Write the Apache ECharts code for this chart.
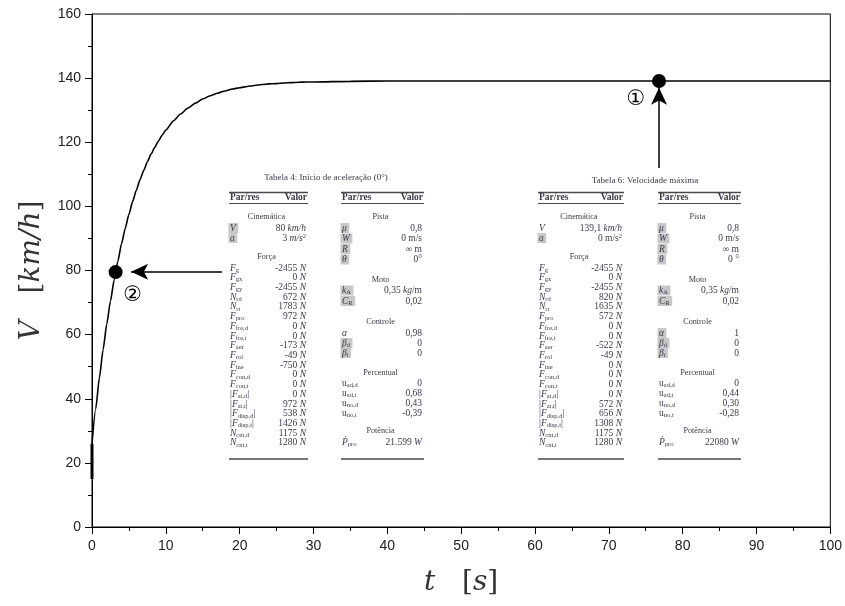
<!DOCTYPE html>
<html>
<head>
<meta charset="utf-8">
<script src="https://cdn.jsdelivr.net/npm/echarts@6/dist/echarts.min.js"></script>
<style>html,body{margin:0;padding:0;background:#fff}#c{width:845px;height:606px}</style>
</head>
<body>
<div id="c"></div>
<script>
// ---- curve data ----
const tValues = [0, 0.5, 1, 1.5, 2, 2.5, 3, 3.5, 4, 4.5, 5, 5.5, 6, 6.5, 7, 7.5, 8, 8.5, 9, 9.5, 10, 11, 12, 13, 14, 15, 16, 17, 18, 19, 20, 21, 22, 23, 24, 25, 26, 27, 28, 29, 30, 35, 40, 50, 60, 70, 80, 90, 100];
const vValues = [26.0, 36.8, 46.5, 55.3, 63.3, 70.5, 77.0, 82.9, 88.3, 93.1, 97.5, 101.5, 105.0, 108.3, 111.2, 113.9, 116.3, 118.4, 120.4, 122.2, 123.8, 126.6, 128.8, 130.7, 132.2, 133.5, 134.5, 135.3, 136.0, 136.6, 137.0, 137.4, 137.7, 138.0, 138.2, 138.3, 138.5, 138.6, 138.7, 138.8, 138.8, 139.0, 139.1, 139.1, 139.1, 139.1, 139.1, 139.1, 139.1];
const startT = [0, 0];
const startV = [15, 26];
// ---- marked points ----
const markerT = [76.8, 3.2];
const markerV = [139.1, 79.5];
const markerLabels = ['①', '②'];
// arrows: [fromT, fromV, toT, toV]
const arrow1 = [76.8, 112, 76.8, 137];
const arrow2 = [17.6, 79.6, 5.3, 79.6];
// ---- axis ticks ----
const xTicks = [0, 10, 20, 30, 40, 50, 60, 70, 80, 90, 100];
const yTicks = [0, 20, 40, 60, 80, 100, 120, 140, 160];

// ---- tables ----
const colHeaders = ['Par/res', 'Valor'];
const t4Caption = 'Tabela 4: Início de aceleração (0°)';
const t6Caption = 'Tabela 6: Velocidade máxima';
const secCin = 'Cinemática', secForca = 'Força', secPista = 'Pista', secMoto = 'Moto', secCtrl = 'Controle', secPerc = 'Percentual', secPot = 'Potência';
const cinSymbols = ['*V*', '*a*'];
const t4Cin = ['80 *km/h*', '3 *m/s*^{2}'];
const t6Cin = ['139,1 *km/h*', '0 m/s^{2}'];
const forceSymbols = ['*F*_{g}', '*F*_{gx}', '*F*_{gy}', '*N*_{rd}', '*N*_{rt}', '*F*_{pro}', '*F*_{fre,d}', '*F*_{fre,t}', '*F*_{aer}', '*F*_{rol}', '*F*_{ine}', '*F*_{con,d}', '*F*_{con,t}', '|*F*_{at,d}|', '|*F*_{at,t}|', '|*F*_{disp,d}|', '|*F*_{disp,t}|', '*N*_{cnt,d}', '*N*_{cnt,t}'];
const t4Force = ['-2455', '0', '-2455', '672', '1783', '972', '0', '0', '-173', '-49', '-750', '0', '0', '0', '972', '538', '1426', '1175', '1280'];
const t6Force = ['-2455', '0', '-2455', '820', '1635', '572', '0', '0', '-522', '-49', '0', '0', '0', '0', '572', '656', '1308', '1175', '1280'];
const pistaSymbols = ['*μ*', '*W*', '*R*', '*θ*'];
const t4Pista = ['0,8', '0 m/s', '∞ m', '0°'];
const t6Pista = ['0,8', '0 m/s', '∞ m', '0 °'];
const motoSymbols = ['*k*_{A}', '*C*_{R}'];
const t4Moto = ['0,35 *kg*/m', '0,02'];
const t6Moto = ['0,35 *kg*/m', '0,02'];
const ctrlSymbols = ['*α*', '*β*_{d}', '*β*_{t}'];
const t4Ctrl = ['0,98', '0', '0'];
const t6Ctrl = ['1', '0', '0'];
const percSymbols = ['u_{ad,d}', 'u_{ad,t}', 'u_{no,d}', 'u_{no,t}'];
const t4Perc = ['0', '0,68', '0,43', '-0,39'];
const t6Perc = ['0', '0,44', '0,30', '-0,28'];
const potSymbols = ['*Ṗ*_{pro}'];
const t4Pot = ['21.599 *W*'];
const t6Pot = ['22080 *W*'];
// highlighted (gray box) symbols
const t4Highlight = { cin: [0, 1], pista: [0, 1, 2, 3], moto: [0, 1], ctrl: [1, 2] };
const t6Highlight = { cin: [1], pista: [0, 1, 2, 3], moto: [0, 1], ctrl: [0, 1, 2] };

// ---- helpers ----
const SERIF = '"Liberation Serif", "DejaVu Serif", serif';
const TXT = '#3a3a46';
const FS = 9.5, SFS = 6.5;
function tokens(str) {
  const out = [];
  let i = 0, buf = '';
  const flush = () => { if (buf) { out.push({ k: 'n', t: buf }); buf = ''; } };
  while (i < str.length) {
    const c = str[i];
    if (c === '*') {
      flush();
      const j = str.indexOf('*', i + 1);
      out.push({ k: 'i', t: str.slice(i + 1, j) });
      i = j + 1;
    } else if ((c === '_' || c === '^') && str[i + 1] === '{') {
      flush();
      const j = str.indexOf('}', i + 2);
      out.push({ k: c === '_' ? 's' : 'p', t: str.slice(i + 2, j) });
      i = j + 1;
    } else { buf += c; i++; }
  }
  flush();
  return out;
}
function toRich(str) { return tokens(str).map(o => '{' + o.k + '|' + o.t + '}').join(''); }
const mctx = document.createElement('canvas').getContext('2d');
function measure(str) {
  let w = 0;
  tokens(str).forEach(o => {
    const sz = (o.k === 's' || o.k === 'p') ? SFS : FS;
    mctx.font = (o.k === 'i' ? 'italic ' : '') + sz + 'px ' + SERIF;
    w += mctx.measureText(o.t).width;
  });
  return w;
}
const richStyles = {
  n: { fontFamily: SERIF, fontSize: FS, fill: TXT, color: TXT },
  i: { fontFamily: SERIF, fontSize: FS, fontStyle: 'italic', fill: TXT, color: TXT },
  s: { fontFamily: SERIF, fontSize: SFS, fill: TXT, color: TXT, padding: [4, 0, 0, 0] },
  p: { fontFamily: SERIF, fontSize: SFS, fill: TXT, color: TXT, padding: [0, 0, 4, 0] }
};
function txt(text, x, y, align, opts) {
  opts = opts || {};
  return {
    type: 'text', silent: true, z: 10,
    style: Object.assign({
      text: text, x: x, y: y, align: align, textAlign: align,
      verticalAlign: 'middle', textVerticalAlign: 'middle',
      fill: TXT, fontFamily: SERIF, fontSize: FS, rich: richStyles
    }, opts)
  };
}
function rule(x1, x2, y, w) {
  return { type: 'rect', silent: true, z: 10, shape: { x: x1, y: y - w / 2, width: x2 - x1, height: w }, style: { fill: '#4a4a4a' } };
}
function box(x, y, w) {
  return { type: 'rect', silent: true, z: 9, shape: { x: x - 1.5, y: y - 5, width: w, height: 10 }, style: { fill: '#c8c8c8' } };
}
function subTable(x1, x2, blocks, els) {
  els.push(rule(x1, x2, 192.5, 1.4));
  els.push(txt(colHeaders[0], x1 + 1, 198, 'left', { fontWeight: 'bold', fontSize: 9.5 }));
  els.push(txt(colHeaders[1], x2 - 1, 198, 'right', { fontWeight: 'bold', fontSize: 9.5 }));
  els.push(rule(x1, x2, 203.5, 0.8));
  els.push(rule(x1, x2, 459, 1.4));
  blocks.forEach(b => {
    els.push(txt(b.title, (x1 + x2) / 2 - 2, b.titleY, 'center', { fontSize: 8.2 }));
    b.symbols.forEach((s, k) => {
      const y = b.rows[k];
      if (b.hl && b.hl.indexOf(k) >= 0) els.push(box(x1 + 1, y, measure(s) + 4));
      els.push(txt(toRich(s), x1 + 1, y, 'left'));
      els.push(txt(toRich(b.values[k]), x2 - 2, y, 'right'));
    });
  });
}
function seq(start, step, n) { const a = []; for (let k = 0; k < n; k++) a.push(start + step * k); return a; }

function buildTable(left, right, caption, capX, capY, d) {
  const els = [];
  els.push(txt(caption, capX, capY, 'center', { fontSize: 9 }));
  subTable(left[0], left[1], [
    { title: secCin, titleY: 217, symbols: cinSymbols, values: d.cin, rows: [228, 238], hl: d.hl.cin },
    { title: secForca, titleY: 257, symbols: forceSymbols, values: d.force.map(v => v + ' *N*'), rows: seq(268, 9.72, 19) }
  ], els);
  subTable(right[0], right[1], [
    { title: secPista, titleY: 217, symbols: pistaSymbols, values: d.pista, rows: [228, 238.5, 249, 259.5], hl: d.hl.pista },
    { title: secMoto, titleY: 280, symbols: motoSymbols, values: d.moto, rows: [290.5, 301], hl: d.hl.moto },
    { title: secCtrl, titleY: 322, symbols: ctrlSymbols, values: d.ctrl, rows: [333, 343, 353], hl: d.hl.ctrl },
    { title: secPerc, titleY: 373, symbols: percSymbols, values: d.perc, rows: [383.5, 393.5, 403.5, 413.5] },
    { title: secPot, titleY: 431, symbols: potSymbols, values: d.pot, rows: [442] }
  ], els);
  return els;
}

const graphics = [].concat(
  buildTable([229, 308], [341, 424], t4Caption, 326, 178, { cin: t4Cin, force: t4Force, pista: t4Pista, moto: t4Moto, ctrl: t4Ctrl, perc: t4Perc, pot: t4Pot, hl: t4Highlight }),
  buildTable([538, 624], [658, 741], t6Caption, 645, 181, { cin: t6Cin, force: t6Force, pista: t6Pista, moto: t6Moto, ctrl: t6Ctrl, perc: t6Perc, pot: t6Pot, hl: t6Highlight })
);

const chart = echarts.init(document.getElementById('c'), null, { renderer: 'canvas' });
const SANS = '"Liberation Sans", Arial, sans-serif';
const axisCommon = {
  axisLine: { show: true, onZero: false, lineStyle: { color: '#000', width: 1 } },
  axisTick: { show: true, length: 7, lineStyle: { color: '#000', width: 1 } },
  minorTick: { show: true, splitNumber: 2, length: 4, lineStyle: { color: '#000', width: 1 } },
  splitLine: { show: false },
  axisLabel: { color: '#222', fontSize: 14, fontFamily: SANS }
};
const MSERIF = '"DejaVu Serif", "Liberation Serif", serif';
const mathName = { fontFamily: MSERIF, fontSize: 28, color: '#333' };
const mathRich = {
  i: Object.assign({ fontStyle: 'italic' }, mathName),
  n: Object.assign({}, mathName)
};

const labelOffsets = [[-23, 19], [17, 23]];
chart.setOption({
  animation: false,
  backgroundColor: '#fff',
  grid: { left: 92, right: 13, top: 14, bottom: 79, show: true, borderColor: '#000', borderWidth: 1, backgroundColor: 'transparent' },
  xAxis: Object.assign({}, axisCommon, {
    type: 'value', min: xTicks[0], max: xTicks[xTicks.length - 1], interval: xTicks[1] - xTicks[0],
    name: '{i|t}   {n|[}{i|s}{n|]}', nameLocation: 'middle', nameGap: 42,
    nameTextStyle: Object.assign({ rich: mathRich }, mathName),
    axisLabel: Object.assign({}, axisCommon.axisLabel, { margin: 12 })
  }),
  yAxis: Object.assign({}, axisCommon, {
    type: 'value', min: yTicks[0], max: yTicks[yTicks.length - 1], interval: yTicks[1] - yTicks[0],
    name: '{i|V}   {n|[}{i|km/h}{n|]}', nameLocation: 'middle', nameGap: 46, nameRotate: 90,
    nameTextStyle: Object.assign({ rich: mathRich }, mathName),
    axisLabel: Object.assign({}, axisCommon.axisLabel, { margin: 11 })
  }),
  graphic: graphics,
  series: [
    {
      type: 'line', data: startT.map((t, k) => [t, startV[k]]), showSymbol: false,
      lineStyle: { color: '#000', width: 3 }, z: 3
    },
    {
      type: 'line', data: tValues.map((t, k) => [t, vValues[k]]), showSymbol: false, smooth: 0.2, smoothMonotone: 'x',
      lineStyle: { color: '#000', width: 1.6 }, z: 3,
      markLine: {
        silent: true, animation: false, label: { show: false },
        lineStyle: { color: '#000', width: 1.5, type: 'solid' },
        itemStyle: { color: '#000' },
        symbol: ['none', 'arrow'],
        data: [
          [{ coord: [arrow1[0], arrow1[1]], symbol: 'none' }, { coord: [arrow1[2], arrow1[3]], symbol: 'arrow', symbolSize: [12, 17] }],
          [{ coord: [arrow2[0], arrow2[1]], symbol: 'none' }, { coord: [arrow2[2], arrow2[3]], symbol: 'arrow', symbolSize: [12, 17] }]
        ]
      }
    },
    {
      type: 'scatter', symbol: 'circle', symbolSize: 14, z: 5,
      itemStyle: { color: '#000', opacity: 1 },
      data: markerT.map((t, k) => ({
        value: [t, markerV[k]],
        label: { show: true, formatter: markerLabels[k], offset: labelOffsets[k], position: 'inside', fontSize: 21, color: '#000', fontFamily: '"DejaVu Sans", sans-serif' }
      }))
    }
  ]
});
</script>
</body>
</html>
